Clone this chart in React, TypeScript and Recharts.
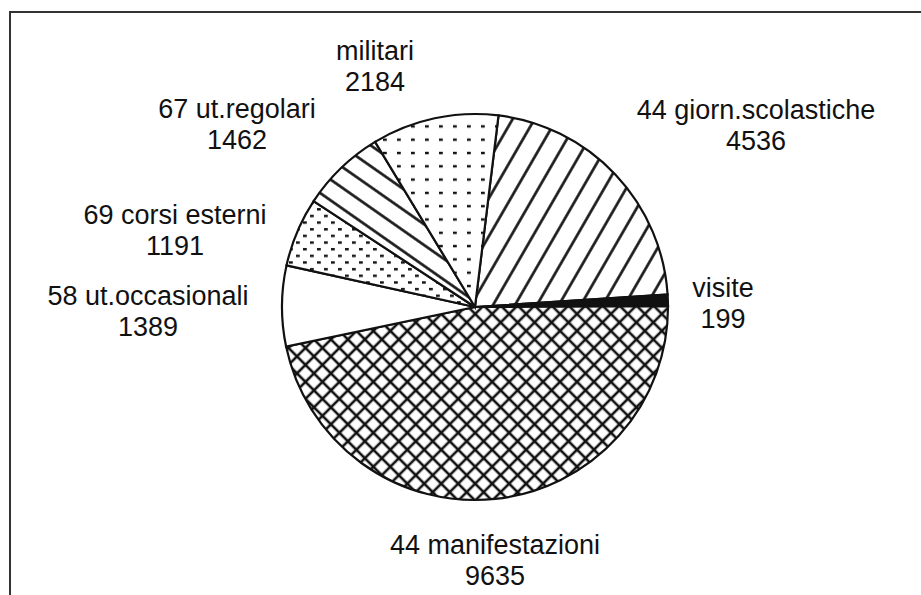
import React from "react";
import { PieChart, Pie, Cell } from "recharts";

// slice order is clockwise from the top (militari / giorn. boundary)
const categories = [
  "44 giorn.scolastiche",
  "visite",
  "44 manifestazioni",
  "58 ut.occasionali",
  "69 corsi esterni",
  "67 ut.regolari",
  "militari",
];
const values = [4536, 199, 9635, 1389, 1191, 1462, 2184];

const data = categories.map((name, i) => ({ name, value: values[i] }));

// fills per slice (pattern ids)
const fills = [
  "url(#hatchUp)",
  "#111",
  "url(#cross)",
  "#fff",
  "url(#dotsStagger)",
  "url(#hatchDown)",
  "url(#dotsGrid)",
];

// label anchor offsets from the pie centre: [dx, dy of first baseline]
const labelOffsets: [number, number][] = [
  [281, -188],
  [248, -10],
  [20, 247],
  [-327, -2],
  [-300, -83],
  [-238, -189],
  [-100, -247],
];

const CX = 470;
const CY = 302;
const R = 193;

const renderLabel = (props: any) => {
  const { index, cx, cy, name, value } = props;
  const [dx, dy] = labelOffsets[index];
  const x = cx + dx;
  const y = cy + dy;
  return (
    <text
      x={x}
      y={y}
      textAnchor="middle"
      fill="#111"
      fontSize={27}
      fontFamily="'Liberation Sans', Arial, sans-serif"
    >
      <tspan x={x} y={y}>{name}</tspan>
      <tspan x={x} y={y + 31}>{value}</tspan>
    </text>
  );
};

export default function App() {
  return (
    <div
      style={{
        position: "absolute",
        left: 0,
        top: 0,
        width: 921,
        height: 595,
        background: "#fff",
        overflow: "hidden",
      }}
    >
      <div
        style={{
          position: "absolute",
          left: 9,
          top: 11,
          width: 930,
          height: 600,
          borderLeft: "2px solid #333",
          borderTop: "2px solid #333",
        }}
      />
      <PieChart width={921} height={595} style={{ position: "absolute", left: 0, top: 0 }}>
        <defs>
          <pattern id="hatchUp" patternUnits="userSpaceOnUse" width={19} height={19} patternTransform="rotate(30)">
            <rect width={19} height={19} fill="#fff" />
            <line x1={9.5} y1={0} x2={9.5} y2={19} stroke="#111" strokeWidth={2.6} />
          </pattern>
          <pattern id="hatchDown" patternUnits="userSpaceOnUse" width={17} height={17} patternTransform="rotate(-55)">
            <rect width={17} height={17} fill="#fff" />
            <line x1={8.5} y1={0} x2={8.5} y2={17} stroke="#111" strokeWidth={2.6} />
          </pattern>
          <pattern id="cross" patternUnits="userSpaceOnUse" width={12} height={12} patternTransform="rotate(45)">
            <rect width={12} height={12} fill="#fff" />
            <line x1={6} y1={0} x2={6} y2={12} stroke="#111" strokeWidth={2.6} />
            <line x1={0} y1={6} x2={12} y2={6} stroke="#111" strokeWidth={2.6} />
          </pattern>
          <pattern id="dotsGrid" patternUnits="userSpaceOnUse" width={14} height={13.3}>
            <rect width={14} height={13.3} fill="#fff" />
            <rect x={5} y={5.5} width={3.8} height={2.4} fill="#111" />
          </pattern>
          <pattern id="dotsStagger" patternUnits="userSpaceOnUse" width={14} height={13.3}>
            <rect width={14} height={13.3} fill="#fff" />
            <rect x={2} y={2} width={3.8} height={2.4} fill="#111" />
            <rect x={9} y={8.6} width={3.8} height={2.4} fill="#111" />
          </pattern>
        </defs>
        <Pie
          data={data}
          dataKey="value"
          nameKey="name"
          cx={CX}
          cy={CY}
          outerRadius={R}
          startAngle={83}
          endAngle={-277}
          stroke="#111"
          strokeWidth={2.2}
          label={renderLabel}
          labelLine={false}
          isAnimationActive={false}
        >
          {data.map((entry, index) => (
            <Cell key={`cell-${index}`} fill={fills[index]} />
          ))}
        </Pie>
      </PieChart>
    </div>
  );
}
